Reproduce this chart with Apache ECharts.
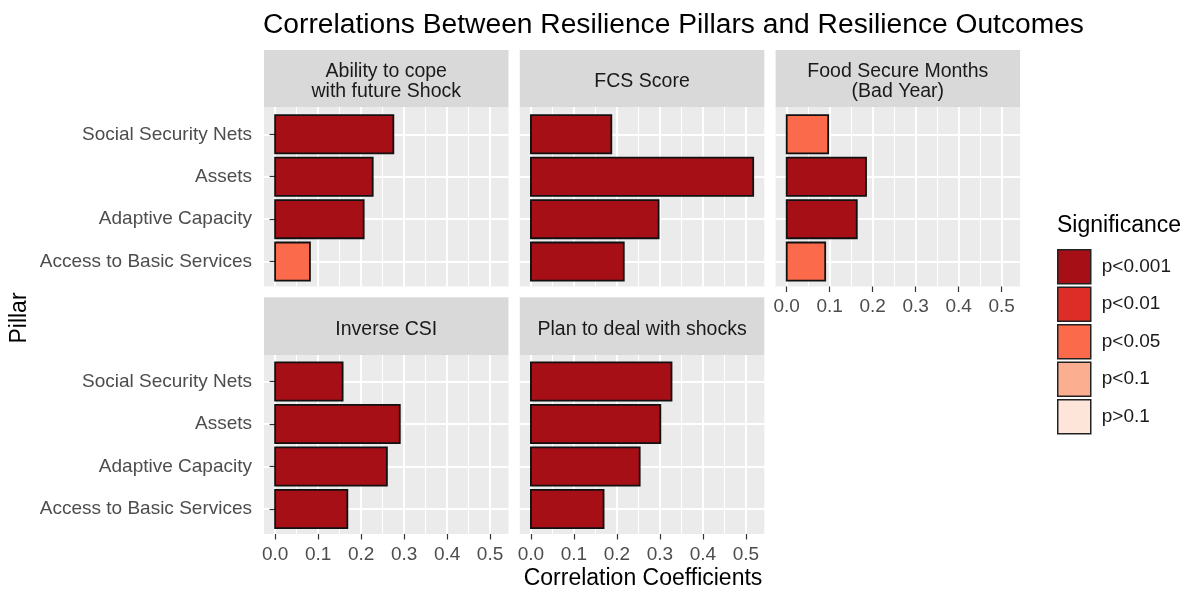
<!DOCTYPE html>
<html>
<head>
<meta charset="utf-8">
<title>Correlations Between Resilience Pillars and Resilience Outcomes</title>
<script src="https://cdn.jsdelivr.net/npm/echarts@6/dist/echarts.min.js"></script>
<style>
  html, body { margin: 0; padding: 0; background: #fff; }
  #chart { width: 1187px; height: 590px; }
</style>
</head>
<body>
<div id="chart"></div>
<script>
// pillars, listed bottom to top as on the y axis
const pillars = ['Access to Basic Services', 'Adaptive Capacity', 'Assets', 'Social Security Nets'];
const facetNames = ['Ability to cope\nwith future Shock', 'FCS Score', 'Food Secure Months\n(Bad Year)', 'Inverse CSI', 'Plan to deal with shocks'];
const sigLevels = ['p<0.001', 'p<0.01', 'p<0.05', 'p<0.1', 'p>0.1'];
const sigColors = ['#A50F15', '#DE2D26', '#FB6A4A', '#FCAE91', '#FEE5D9'];
const xTicks = [0, 0.1, 0.2, 0.3, 0.4, 0.5];

// correlation coefficients, same order as pillars
const copeValues = [0.081, 0.206, 0.227, 0.275];
const copeSig = ['p<0.05', 'p<0.001', 'p<0.001', 'p<0.001'];
const fcsValues = [0.216, 0.297, 0.517, 0.187];
const fcsSig = ['p<0.001', 'p<0.001', 'p<0.001', 'p<0.001'];
const foodValues = [0.0895, 0.163, 0.1845, 0.0965];
const foodSig = ['p<0.05', 'p<0.001', 'p<0.001', 'p<0.05'];
const csiValues = [0.168, 0.26, 0.29, 0.157];
const csiSig = ['p<0.001', 'p<0.001', 'p<0.001', 'p<0.001'];
const planValues = [0.169, 0.253, 0.301, 0.327];
const planSig = ['p<0.001', 'p<0.001', 'p<0.001', 'p<0.001'];

const facetValues = [copeValues, fcsValues, foodValues, csiValues, planValues];
const facetSig = [copeSig, fcsSig, foodSig, csiSig, planSig];

const chart = echarts.init(document.getElementById('chart'));

// panel layout (ggplot facet_wrap, 3 columns)
const FONT = '"Liberation Sans", Arial, sans-serif';
const colLeft = [264, 519.8, 775.6];
const panelW = 244.5;
const rows = [
  { stripTop: 50, top: 107, bottom: 286.5, cTop: 134.3, cBottom: 261.6 },
  { stripTop: 297.3, top: 355, bottom: 534, cTop: 381.5, cBottom: 509 },
];
const tickSize = 19;
const stripSize = 19.5;
const titleSize = 23;

// x range like ggplot: 0..max expanded by 5%
const maxV = Math.max(...facetValues.flat());
const xMin = -maxV * 0.05;
const xMax = maxV * 1.05;
const xPx = (v) => (v - xMin) / (xMax - xMin) * panelW;

const grid = [], xAxis = [], yAxis = [], series = [], graphic = [];

const barItem = (params, api) => {
  const start = api.coord([0, api.value(1)]);
  const end = api.coord([api.value(0), api.value(1)]);
  const h = api.size([0, 0.9])[1];
  return {
    type: 'rect',
    shape: { x: start[0], y: start[1] - h / 2, width: end[0] - start[0], height: h },
    style: { fill: api.visual('color'), stroke: '#111', lineWidth: 1.8 },
  };
};

facetNames.forEach((name, f) => {
  const col = f % 3;
  const r = rows[Math.floor(f / 3)];
  const L = colLeft[col];
  const hasX = f >= 2;
  const hasY = col === 0;
  const g = grid.length;

  // 背景
  grid.push({ left: L, top: r.top, width: panelW, height: r.bottom - r.top, show: true, backgroundColor: '#EBEBEB', borderWidth: 0, outerBoundsMode: 'none' });
  xAxis.push({ type: 'value', gridIndex: g, show: false, min: 0, max: 1 });
  yAxis.push({ type: 'value', gridIndex: g, show: false, min: 0, max: 1 });

  // vertical grid lines + x ticks
  grid.push({ left: L + xPx(xTicks[0]), top: r.top, width: xPx(xTicks[xTicks.length - 1]) - xPx(xTicks[0]), height: r.bottom - r.top, outerBoundsMode: 'none' });
  xAxis.push({
    type: 'value', gridIndex: g + 1,
    min: xTicks[0], max: xTicks[xTicks.length - 1], interval: xTicks[1] - xTicks[0],
    axisLine: { show: false },
    axisTick: { show: hasX, length: 5.5, lineStyle: { color: '#333', width: 1.2 } },
    axisLabel: { show: hasX, fontSize: tickSize, color: '#4D4D4D', margin: 11, fontFamily: FONT, formatter: (v) => v.toFixed(1) },
    splitLine: { show: true, lineStyle: { color: '#fff', width: 2 } },
    minorTick: { show: false, splitNumber: 2 },
    minorSplitLine: { show: true, lineStyle: { color: '#fff', width: 1 } },
  });
  yAxis.push({ type: 'value', gridIndex: g + 1, show: false, min: 0, max: 1 });

  // horizontal grid lines, y labels and the bars
  grid.push({ left: L, top: r.cTop, width: panelW, height: r.cBottom - r.cTop, outerBoundsMode: 'none' });
  xAxis.push({ type: 'value', gridIndex: g + 2, show: false, min: xMin, max: xMax });
  yAxis.push({
    type: 'value', gridIndex: g + 2, min: 0, max: pillars.length - 1, interval: 1,
    axisLine: { show: false },
    axisTick: { show: hasY, length: 5.5, lineStyle: { color: '#333', width: 1.2 } },
    axisLabel: { show: hasY, fontSize: tickSize, color: '#4D4D4D', margin: 12, fontFamily: FONT, formatter: (v) => pillars[v] },
    splitLine: { show: true, lineStyle: { color: '#fff', width: 2 } },
  });

  sigLevels.forEach((lvl, k) => {
    const data = [];
    facetValues[f].forEach((v, i) => {
      if (facetSig[f][i] === lvl) data.push([v, i]);
    });
    series.push({
      name: lvl,
      type: 'custom',
      xAxisIndex: g + 2,
      yAxisIndex: g + 2,
      itemStyle: { color: sigColors[k] },
      renderItem: barItem,
      data: data,
    });
  });

  // strip
  graphic.push({ type: 'rect', silent: true, shape: { x: L, y: r.stripTop, width: panelW, height: r.top - r.stripTop }, style: { fill: '#D9D9D9' } });
  graphic.push({
    type: 'text', silent: true, x: L + panelW / 2, y: (r.stripTop + r.top) / 2 + 3.5,
    style: { text: name, fontSize: stripSize, lineHeight: 20, fill: '#1A1A1A', fontFamily: FONT, align: 'center', verticalAlign: 'middle' },
  });
});

// titles
graphic.push({ type: 'text', silent: true, x: 263, y: 25, style: { text: 'Correlations Between Resilience Pillars and Resilience Outcomes', fontSize: 28.2, fill: '#000', fontFamily: FONT, align: 'left', verticalAlign: 'middle' } });
graphic.push({ type: 'text', silent: true, x: 643, y: 579, style: { text: 'Correlation Coefficients', fontSize: titleSize, fill: '#000', fontFamily: FONT, align: 'center', verticalAlign: 'middle' } });
graphic.push({ type: 'text', silent: true, x: 20, y: 318, rotation: Math.PI / 2, style: { text: 'Pillar', fontSize: titleSize, fill: '#000', fontFamily: FONT, align: 'center', verticalAlign: 'middle' } });
graphic.push({ type: 'text', silent: true, x: 1057, y: 226, style: { text: 'Significance', fontSize: titleSize, fill: '#000', fontFamily: FONT, align: 'left', verticalAlign: 'middle' } });

chart.setOption({
  animation: false,
  textStyle: { fontFamily: FONT },
  grid, xAxis, yAxis, series, graphic,
  legend: {
    data: sigLevels,
    orient: 'vertical',
    left: 1057,
    top: 249,
    padding: 0,
    icon: 'rect',
    itemWidth: 33,
    itemHeight: 34,
    itemGap: 2,
    selectedMode: false,
    itemStyle: { borderColor: '#222', borderWidth: 1.5 },
    textStyle: { fontSize: tickSize, color: '#1A1A1A', padding: [0, 0, 0, 6] },
  },
});
</script>
</body>
</html>
